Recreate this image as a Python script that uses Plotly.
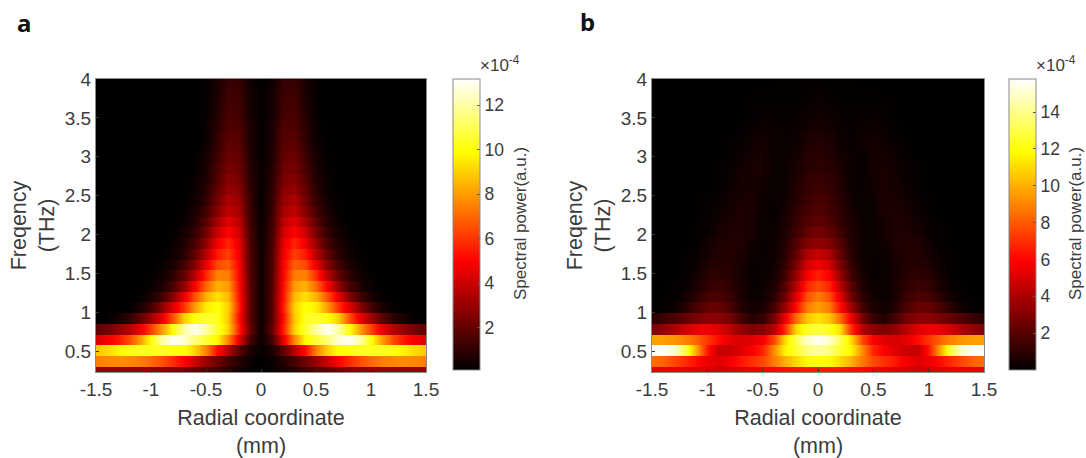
import plotly.graph_objects as go

radius_mm = [0, .1, .2, .3, .4, .5, .6, .7, .8, .9, 1.0, 1.1, 1.2, 1.3, 1.4, 1.5]
freq_start_thz = 0.23
freq_step_thz = 0.1378
x_ticks = [-1.5, -1, -0.5, 0, 0.5, 1, 1.5]
x_tick_labels = ["-1.5", "-1", "-0.5", "0", "0.5", "1", "1.5"]
y_ticks = [0.5, 1, 1.5, 2, 2.5, 3, 3.5, 4]
y_tick_labels = ["0.5", "1", "1.5", "2", "2.5", "3", "3.5", "4"]
cbar_a_ticks = [2, 4, 6, 8, 10, 12]
cbar_b_ticks = [2, 4, 6, 8, 10, 12, 14]

# Spectral power (x 1e-4), one row per frequency band from the bottom, columns follow radius_mm.
power_a = [
    [.1, .2, .5, .9, 1.3, 1.7, 2.0, 2.3, 2.6, 2.8, 2.9, 3.0, 3.0, 3.0, 3.0, 3.0],
    [.1, .3, .8, 1.4, 2.2, 3.0, 4.0, 5.0, 5.8, 6.5, 7.0, 7.4, 7.6, 7.7, 7.6, 7.4],
    [.2, .6, 1.8, 3.6, 5.2, 7.5, 9.0, 10.0, 10.2, 10.3, 10.3, 10.3, 10.1, 9.7, 9.2, 8.8],
    [.3, 1.4, 4.5, 7.5, 9.8, 10.6, 11.4, 12.6, 13.0, 12.0, 10.0, 8.0, 6.4, 5.4, 4.8, 4.3],
    [.3, 2.0, 5.5, 9.0, 10.5, 12.0, 13.0, 12.0, 10.0, 8.0, 6.2, 4.6, 3.6, 2.9, 2.3, 1.9],
    [.3, 1.8, 5.2, 8.8, 10.3, 10.5, 10.1, 9.0, 6.6, 4.6, 3.2, 1.9, 1.0, .5, .2, .1],
    [.3, 1.8, 5.5, 9.0, 10.0, 9.6, 8.0, 6.0, 4.4, 2.8, 1.4, .6, .2, .1, .1, .05],
    [.3, 1.8, 5.3, 8.6, 9.3, 8.4, 6.6, 4.6, 2.7, 1.4, .6, .2, .1, .1, .05, .05],
    [.3, 1.7, 5.2, 8.0, 8.4, 7.0, 5.0, 3.0, 1.5, .7, .3, .1, .1, .05, .05, .05],
    [.3, 1.7, 5.0, 7.4, 7.5, 5.8, 3.7, 2.0, 1.0, .4, .2, .1, .05, .05, .05, .05],
    [.3, 1.6, 4.9, 6.8, 6.4, 4.6, 2.7, 1.4, .6, .3, .1, .05, .05, .05, .05, .05],
    [.3, 1.6, 4.7, 6.2, 5.5, 3.6, 2.0, .9, .4, .2, .1, .05, .05, .05, .05, .05],
    [.3, 1.5, 4.5, 5.7, 4.7, 2.9, 1.5, .7, .3, .1, .05, .05, .05, .05, .05, .05],
    [.3, 1.4, 4.1, 5.0, 4.0, 2.3, 1.1, .5, .2, .1, .05, .05, .05, .05, .05, .05],
    [.2, 1.3, 3.7, 4.4, 3.3, 1.8, .8, .3, .1, .05, .05, .05, .05, .05, .05, .05],
    [.2, 1.2, 3.3, 3.8, 2.7, 1.4, .6, .2, .1, .05, .05, .05, .05, .05, .05, .05],
    [.2, 1.1, 3.0, 3.4, 2.3, 1.1, .4, .2, .1, .05, .05, .05, .05, .05, .05, .05],
    [.2, 1.0, 2.7, 3.0, 2.0, .9, .3, .1, .05, .05, .05, .05, .05, .05, .05, .05],
    [.2, .9, 2.4, 2.7, 1.7, .7, .3, .1, .05, .05, .05, .05, .05, .05, .05, .05],
    [.2, .8, 2.2, 2.4, 1.5, .6, .2, .1, .05, .05, .05, .05, .05, .05, .05, .05],
    [.2, .7, 2.0, 2.2, 1.3, .5, .2, .1, .05, .05, .05, .05, .05, .05, .05, .05],
    [.2, .7, 1.8, 2.0, 1.1, .4, .1, .05, .05, .05, .05, .05, .05, .05, .05, .05],
    [.2, .6, 1.7, 1.8, 1.0, .3, .1, .05, .05, .05, .05, .05, .05, .05, .05, .05],
    [.2, .6, 1.6, 1.6, .9, .3, .1, .05, .05, .05, .05, .05, .05, .05, .05, .05],
    [.2, .5, 1.4, 1.5, .8, .2, .1, .05, .05, .05, .05, .05, .05, .05, .05, .05],
    [.2, .5, 1.3, 1.4, .7, .2, .1, .05, .05, .05, .05, .05, .05, .05, .05, .05],
    [.2, .5, 1.2, 1.3, .6, .2, .1, .05, .05, .05, .05, .05, .05, .05, .05, .05],
    [.1, .4, 1.1, 1.2, .6, .2, .1, .05, .05, .05, .05, .05, .05, .05, .05, .05],
]

power_b = [
    [6.5, 6.5, 6.4, 6.2, 6.0, 5.8, 5.5, 5.2, 5.0, 4.8, 5.0, 5.2, 5.4, 5.5, 5.5, 5.3],
    [12.0, 11.8, 11.0, 10.0, 8.8, 7.6, 7.0, 6.4, 5.6, 5.2, 5.5, 6.2, 6.9, 7.6, 8.2, 8.5],
    [14.3, 13.8, 12.6, 11.6, 9.2, 6.8, 5.8, 5.2, 4.7, 4.6, 6.5, 9.8, 13.0, 15.0, 15.7, 15.7],
    [15.6, 15.0, 13.2, 11.0, 7.6, 5.8, 5.2, 5.0, 5.4, 6.2, 7.2, 8.2, 9.0, 9.4, 9.6, 9.6],
    [12.8, 12.4, 11.0, 7.0, 4.2, 3.2, 2.9, 3.4, 4.4, 5.2, 5.6, 5.4, 4.8, 4.0, 3.4, 2.9],
    [11.2, 10.5, 8.4, 5.5, 2.8, 1.2, .8, 1.6, 2.8, 3.2, 3.2, 2.8, 2.3, 1.8, 1.3, 1.0],
    [9.6, 8.8, 6.2, 3.6, 1.6, .6, .4, .8, 1.8, 2.4, 2.3, 1.7, .9, .3, .1, .1],
    [8.8, 7.8, 5.2, 2.6, 1.0, .4, .2, .6, 1.4, 1.8, 1.6, 1.0, .4, .1, .05, .05],
    [7.6, 6.8, 4.3, 2.0, .7, .3, .2, .6, 1.1, 1.4, 1.2, .6, .2, .1, .05, .05],
    [6.6, 5.8, 3.5, 1.5, .5, .2, .2, .5, .9, 1.1, .9, .4, .1, .05, .05, .05],
    [5.6, 4.9, 2.9, 1.2, .4, .2, .2, .5, .8, .9, .7, .3, .1, .05, .05, .05],
    [4.6, 4.0, 2.3, 1.0, .3, .2, .3, .6, .8, .8, .5, .2, .1, .05, .05, .05],
    [3.4, 3.0, 1.9, .8, .3, .2, .4, .7, .8, .7, .4, .1, .05, .05, .05, .05],
    [2.7, 2.3, 1.5, .7, .3, .2, .5, .7, .7, .5, .2, .1, .05, .05, .05, .05],
    [2.2, 1.9, 1.2, .6, .2, .2, .5, .7, .6, .4, .2, .05, .05, .05, .05, .05],
    [1.9, 1.6, 1.1, .5, .2, .3, .6, .7, .5, .3, .1, .05, .05, .05, .05, .05],
    [1.7, 1.4, .9, .4, .2, .3, .6, .6, .4, .2, .1, .05, .05, .05, .05, .05],
    [1.5, 1.2, .8, .3, .2, .4, .6, .5, .3, .1, .05, .05, .05, .05, .05, .05],
    [1.3, 1.1, .7, .3, .2, .4, .6, .5, .2, .1, .05, .05, .05, .05, .05, .05],
    [1.1, .9, .6, .3, .2, .5, .6, .4, .2, .1, .05, .05, .05, .05, .05, .05],
    [1.0, .8, .5, .3, .2, .5, .5, .3, .1, .05, .05, .05, .05, .05, .05, .05],
    [.9, .7, .4, .2, .3, .5, .4, .2, .1, .05, .05, .05, .05, .05, .05, .05],
    [.7, .6, .3, .2, .3, .4, .3, .1, .05, .05, .05, .05, .05, .05, .05, .05],
    [.5, .4, .2, .2, .2, .3, .2, .1, .05, .05, .05, .05, .05, .05, .05, .05],
    [.4, .3, .2, .1, .2, .2, .1, .05, .05, .05, .05, .05, .05, .05, .05, .05],
    [.3, .2, .1, .1, .1, .1, .1, .05, .05, .05, .05, .05, .05, .05, .05, .05],
    [.2, .1, .1, .1, .1, .1, .05, .05, .05, .05, .05, .05, .05, .05, .05, .05],
    [.1, .1, .1, .1, .05, .05, .05, .05, .05, .05, .05, .05, .05, .05, .05, .05],
]

W, H = 1086, 458
TEXT = "#3c3c3c"
FONT = "Liberation Sans"
HOT = [[0, "#000000"], [0.375, "#ff0000"], [0.75, "#ffff00"], [1, "#ffffff"]]


def mirrored_x():
    return [-r for r in radius_mm[:0:-1]] + radius_mm


def stepped_y():
    # Each band holds its value across its full height, so the image steps vertically.
    out = []
    for i in range(len(power_a)):
        c = freq_start_thz + i * freq_step_thz
        out += [c - freq_step_thz * 0.499, c + freq_step_thz * 0.499]
    return out


def stepped_z(rows):
    out = []
    for row in rows:
        full = row[:0:-1] + row
        out += [full, full]
    return out


def heat(rows, xaxis, yaxis, zmin, zmax, cbar_px, ticks):
    return go.Heatmap(
        x=mirrored_x(), y=stepped_y(), z=stepped_z(rows), xaxis=xaxis, yaxis=yaxis,
        zmin=zmin, zmax=zmax, zsmooth="best", colorscale=HOT,
        colorbar=dict(
            x=cbar_px / W, xanchor="left", xpad=0, y=1 - 79 / H, yanchor="top", ypad=0,
            len=291 / H, thickness=27, outlinecolor="#8a8a8a", outlinewidth=1,
            tickmode="array", tickvals=ticks, ticktext=[str(t) for t in ticks],
            ticks="inside", ticklen=3, tickcolor="#555555",
            tickfont=dict(size=17.5, color=TEXT, family=FONT),
        ),
    )


fig = go.Figure([
    heat(power_a, "x", "y", 0.1, 13.17, 453, cbar_a_ticks),
    heat(power_b, "x2", "y2", 0.0, 15.8, 1009, cbar_b_ticks),
])

common_x = dict(range=[-1.5, 1.5], tickmode="array", tickvals=x_ticks, ticktext=x_tick_labels,
                ticks="inside", ticklen=3, tickcolor="#333333", showgrid=False, zeroline=False,
                showline=True, mirror=True, linecolor="#8a8a8a", linewidth=1,
                tickfont=dict(size=19, color=TEXT, family=FONT))
common_y = dict(range=[0.23, 4], tickmode="array", tickvals=y_ticks, ticktext=y_tick_labels,
                ticks="inside", ticklen=3, tickcolor="#333333", showgrid=False, zeroline=False,
                showline=True, mirror=True, linecolor="#8a8a8a", linewidth=1,
                tickfont=dict(size=19, color=TEXT, family=FONT))
title_font = dict(size=21.5, color=TEXT, family=FONT)
xtitle = dict(text="Radial coordinate<br>(mm)", font=title_font, standoff=12)
ytitle = dict(text="Freqency<br>(THz)", font=title_font, standoff=4)


def note(text, px, py, size, color=TEXT, family=FONT, angle=0, xanchor="left"):
    return dict(text=text, x=px / W, y=1 - py / H, xref="paper", yref="paper", xanchor=xanchor,
                yanchor="middle", showarrow=False, textangle=angle,
                font=dict(size=size, color=color, family=family))


fig.update_layout(
    width=W, height=H, autosize=False, margin=dict(l=0, r=0, t=0, b=0, autoexpand=False),
    paper_bgcolor="white", plot_bgcolor="black", font=dict(family=FONT, color=TEXT),
    xaxis=dict(domain=[96 / W, 426 / W], anchor="y", title=xtitle, **common_x),
    yaxis=dict(domain=[1 - 372 / H, 1 - 79 / H], anchor="x", title=ytitle, **common_y),
    xaxis2=dict(domain=[652 / W, 984 / W], anchor="y2", title=xtitle, **common_x),
    yaxis2=dict(domain=[1 - 372 / H, 1 - 79 / H], anchor="x2", title=ytitle, **common_y),
    annotations=[
        note("<b>a</b>", 15, 23, 24, "#111111", "Noto Sans"),
        note("<b>b</b>", 578, 21, 24, "#111111", "Noto Sans"),
        note("×10<sup>-4</sup>", 478, 64, 17),
        note("×10<sup>-4</sup>", 1034, 64, 17),
        note("Spectral power(a.u.)", 520, 224, 17, angle=-90, xanchor="center"),
        note("Spectral power(a.u.)", 1075, 224, 17, angle=-90, xanchor="center"),
    ],
)

fig.write_html(
    "out.html",
    config={"displayModeBar": False},
    post_script="document.body.style.margin='0';document.documentElement.style.overflow='hidden';",
)
